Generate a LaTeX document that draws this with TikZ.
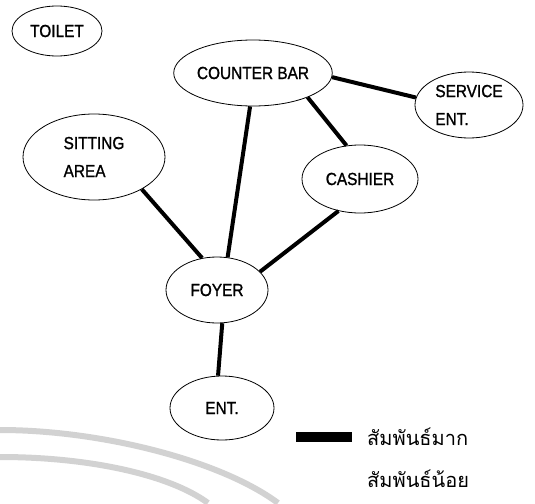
\documentclass[tikz,border=0pt]{standalone}
\usepackage{fontspec}
\setmainfont{Liberation Sans}
\newfontfamily\roomfont[FakeStretch=0.88,FakeBold=1.2]{Liberation Sans}
\newfontfamily\thaifont[Script=Thai]{Loma}
\usetikzlibrary{shapes.geometric}
\begin{document}
\begin{tikzpicture}[x=1pt,y=-1pt,
  room/.style={ellipse,draw=black,line width=0.8pt,inner sep=0pt,
    font=\roomfont\fontsize{17.5}{28}\selectfont,align=left},
  link/.style={line width=4pt,black},
  legendbar/.style={fill=black,draw=none,inner sep=0pt,minimum width=56pt,minimum height=10pt},
  legendtext/.style={anchor=west,inner sep=0pt,font=\thaifont\fontsize{20}{22}\selectfont},
  wmark/.style={line width=6pt,gray!35}]
\useasboundingbox (0,0) rectangle (535,503);

% faint arcs in the lower left corner
\draw[wmark] (0,430) .. controls (100,430) and (220,460) .. (278,503);
\draw[wmark] (0,457) .. controls (90,457) and (170,475) .. (208,503);

% rooms
\node[room,minimum width=90pt,minimum height=50pt] (toilet) at (57,31) {TOILET};
\node[room,minimum width=136pt,minimum height=66pt] (cb) at (253,73) {COUNTER BAR};
\node[room,minimum width=108pt,minimum height=66pt] (svc) at (469,105) {SERVICE\\ENT.};
\node[room,minimum width=142pt,minimum height=86pt] (sit) at (94,157) {SITTING\\AREA};
\node[room,minimum width=116pt,minimum height=68pt] (cash) at (360,179) {CASHIER};
\node[room,minimum width=102pt,minimum height=66pt] (foy) at (217,290) {FOYER};
\node[room,minimum width=104pt,minimum height=64pt] (ent) at (222,408) {ENT.};

% strong relations
\draw[link] (cb.-3) -- (svc.172);
\draw[link] (cb.-24) -- (cash.112);
\draw[link] (cb.-95) -- (foy.72);
\draw[link] (sit.-34) -- (foy.115);
\draw[link] (cash.-124) -- (foy.23);
\draw[link] (foy.-81) -- (ent.97);

% legend
\node[legendbar] (bar) at (324,437) {};
\node[legendtext] (strong) at (367,437) {สัมพันธ์มาก};
\node[legendtext] (weak) at (367,479) {สัมพันธ์น้อย};
\end{tikzpicture}
\end{document}
